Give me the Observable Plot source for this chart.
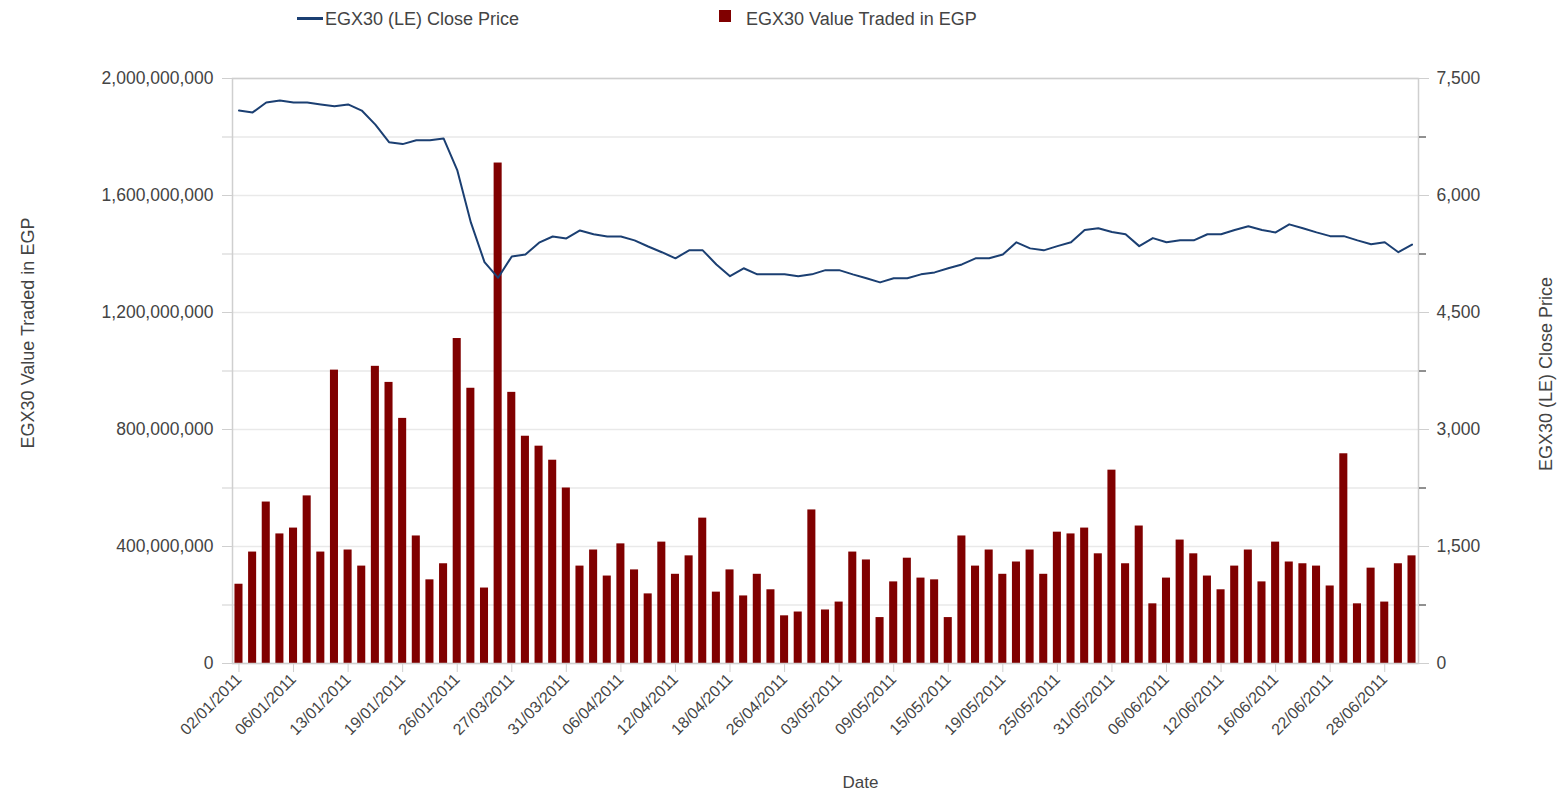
<!DOCTYPE html>
<html>
<head>
<meta charset="utf-8">
<script src="https://cdn.jsdelivr.net/npm/d3@7"></script>
<script src="https://cdn.jsdelivr.net/npm/@observablehq/plot@0.6"></script>
<style>
  html, body { margin: 0; padding: 0; background: #fff; }
  #wrap { position: relative; width: 1560px; height: 798px; font-family: "Liberation Sans", Arial, sans-serif; color: #444; }
  .leg { position: absolute; font-size: 18px; color: #444; white-space: nowrap; line-height: 20px; }
  .swline { position: absolute; width: 26px; height: 3px; background: #1b3f72; }
  .swbox { position: absolute; width: 12px; height: 12px; background: #800000; }
  #chart { position: absolute; left: 0; top: 0; }
</style>
</head>
<body>
<div id="wrap">
  <div id="chart"></div>
  <div class="swline" style="left:297px; top:17px;"></div>
  <div class="leg" style="left:325px; top:9px;">EGX30 (LE) Close Price</div>
  <div class="swbox" style="left:719px; top:10px;"></div>
  <div class="leg" style="left:746px; top:9px;">EGX30 Value Traded in EGP</div>
</div>
<script>
const dates = [
  "02/01/2011","03/01/2011","04/01/2011","05/01/2011","06/01/2011","10/01/2011","11/01/2011","12/01/2011","13/01/2011",
  "16/01/2011","17/01/2011","18/01/2011","19/01/2011","20/01/2011","23/01/2011","24/01/2011","26/01/2011","27/01/2011",
  "23/03/2011","24/03/2011","27/03/2011","28/03/2011","29/03/2011","30/03/2011","31/03/2011",
  "03/04/2011","04/04/2011","05/04/2011","06/04/2011","07/04/2011","10/04/2011","11/04/2011","12/04/2011","13/04/2011",
  "14/04/2011","17/04/2011","18/04/2011","19/04/2011","20/04/2011","21/04/2011","26/04/2011","27/04/2011","28/04/2011",
  "02/05/2011","03/05/2011","04/05/2011","05/05/2011","08/05/2011","09/05/2011","10/05/2011","11/05/2011","12/05/2011",
  "15/05/2011","16/05/2011","17/05/2011","18/05/2011","19/05/2011","22/05/2011","23/05/2011","24/05/2011","25/05/2011",
  "26/05/2011","29/05/2011","30/05/2011","31/05/2011",
  "01/06/2011","02/06/2011","05/06/2011","06/06/2011","07/06/2011","08/06/2011","09/06/2011","12/06/2011","13/06/2011",
  "14/06/2011","15/06/2011","16/06/2011","19/06/2011","20/06/2011","21/06/2011","22/06/2011","23/06/2011","26/06/2011",
  "27/06/2011","28/06/2011","29/06/2011","30/06/2011"
];
// EGX30 Value Traded in EGP (millions)
const valueTradedM = [
  271,381,552,443,463,573,381,1003,388,333,1016,961,838,436,286,341,1111,941,258,1711,
  927,777,743,695,600,333,388,299,409,320,238,415,305,368,497,244,320,231,305,252,
  163,176,525,183,210,381,354,157,279,360,292,286,157,436,333,388,305,347,388,305,
  449,443,463,375,661,341,470,204,292,422,375,299,252,333,388,279,415,347,341,333,
  265,717,204,326,210,341,368
];
// EGX30 (LE) Close Price
const closePrice = [
  7089,7065,7192,7217,7192,7192,7168,7143,7168,7089,6908,6683,6659,6708,6708,6732,6326,5655,5146,4945,
  5219,5244,5395,5474,5449,5552,5503,5474,5474,5425,5346,5273,5195,5297,5297,5116,4965,5067,4989,4989,
  4989,4965,4989,5043,5043,4989,4940,4886,4940,4940,4989,5014,5067,5116,5195,5195,5244,5400,5322,5297,
  5351,5400,5557,5581,5532,5503,5351,5454,5400,5425,5425,5503,5503,5557,5606,5557,5527,5630,5581,5527,
  5479,5479,5425,5376,5400,5273,5371
];
const xTickLabels = [
  "02/01/2011","06/01/2011","13/01/2011","19/01/2011","26/01/2011","27/03/2011","31/03/2011","06/04/2011",
  "12/04/2011","18/04/2011","26/04/2011","03/05/2011","09/05/2011","15/05/2011","19/05/2011","25/05/2011",
  "31/05/2011","06/06/2011","12/06/2011","16/06/2011","22/06/2011","28/06/2011"
];
const leftTicks = [0, 400000000, 800000000, 1200000000, 1600000000, 2000000000];
const leftMinorTicks = [200000000, 600000000, 1000000000, 1400000000, 1800000000];
const rightTicks = [0, 1500, 3000, 4500, 6000, 7500];
const rightMinorTicks = [750, 2250, 3750, 5250, 6750];

const LEFT_MAX = 2000000000, RIGHT_MAX = 7500;
const k = LEFT_MAX / RIGHT_MAX;
const data = dates.map((d, i) => ({date: d, value: valueTradedM[i] * 1e6, price: closePrice[i]}));
const fmt = d3.format(",");
const font = 17.5;

const chart = Plot.plot({
  width: 1560,
  height: 798,
  marginLeft: 232,
  marginRight: 142,
  marginTop: 78,
  marginBottom: 135,
  style: {fontFamily: "'Liberation Sans', Arial, sans-serif", background: "white", color: "#444"},
  x: {type: "band", domain: dates, paddingInner: 0.41, paddingOuter: 0.18},
  y: {domain: [0, LEFT_MAX]},
  marks: [
    Plot.gridY([...leftTicks, ...leftMinorTicks], {stroke: "#e9e9e9", strokeOpacity: 1, strokeWidth: 1.5}),
    Plot.barY(data, {x: "date", y: "value", fill: "#800000"}),
    Plot.line(data, {x: "date", y: d => d.price * k, stroke: "#1b3f72", strokeWidth: 2}),
    Plot.frame({stroke: "#cfcfcf", strokeWidth: 1.5}),
    Plot.axisY(leftTicks, {anchor: "left", tickSize: 10, tickPadding: 9, stroke: "#cfcfcf", fill: "#444", fontSize: font, tickFormat: fmt, label: null}),
    Plot.axisY(leftMinorTicks, {anchor: "left", tickSize: 10, stroke: "#cfcfcf", tickFormat: () => "", label: null}),
    Plot.axisY(rightTicks.map(v => v * k), {anchor: "right", tickSize: 10, tickPadding: 8, stroke: "#cfcfcf", fill: "#444", fontSize: font, tickFormat: v => fmt(Math.round(v / k)), label: null}),
    Plot.axisY(rightMinorTicks.map(v => v * k), {anchor: "right", tickSize: 7, stroke: "#222", tickFormat: () => "", label: null}),
    Plot.axisX(xTickLabels, {anchor: "bottom", tickSize: 9, tickPadding: 4, tickRotate: -45, stroke: "#cfcfcf", fill: "#444", fontSize: 16, label: null}),
    Plot.text(["EGX30 Value Traded in EGP"], {text: d => d, frameAnchor: "left", dx: -204, dy: -38, rotate: -90, textAnchor: "middle", fontSize: 18, fill: "#444"}),
    Plot.text(["EGX30 (LE) Close Price"], {text: d => d, frameAnchor: "right", dx: 128, dy: 3, rotate: -90, textAnchor: "middle", fontSize: 18, fill: "#444"}),
    Plot.text(["Date"], {text: d => d, frameAnchor: "bottom", dx: 35, dy: 124, textAnchor: "middle", fontSize: 17, fill: "#444"})
  ]
});
document.getElementById("chart").appendChild(chart);
</script>
</body>
</html>
